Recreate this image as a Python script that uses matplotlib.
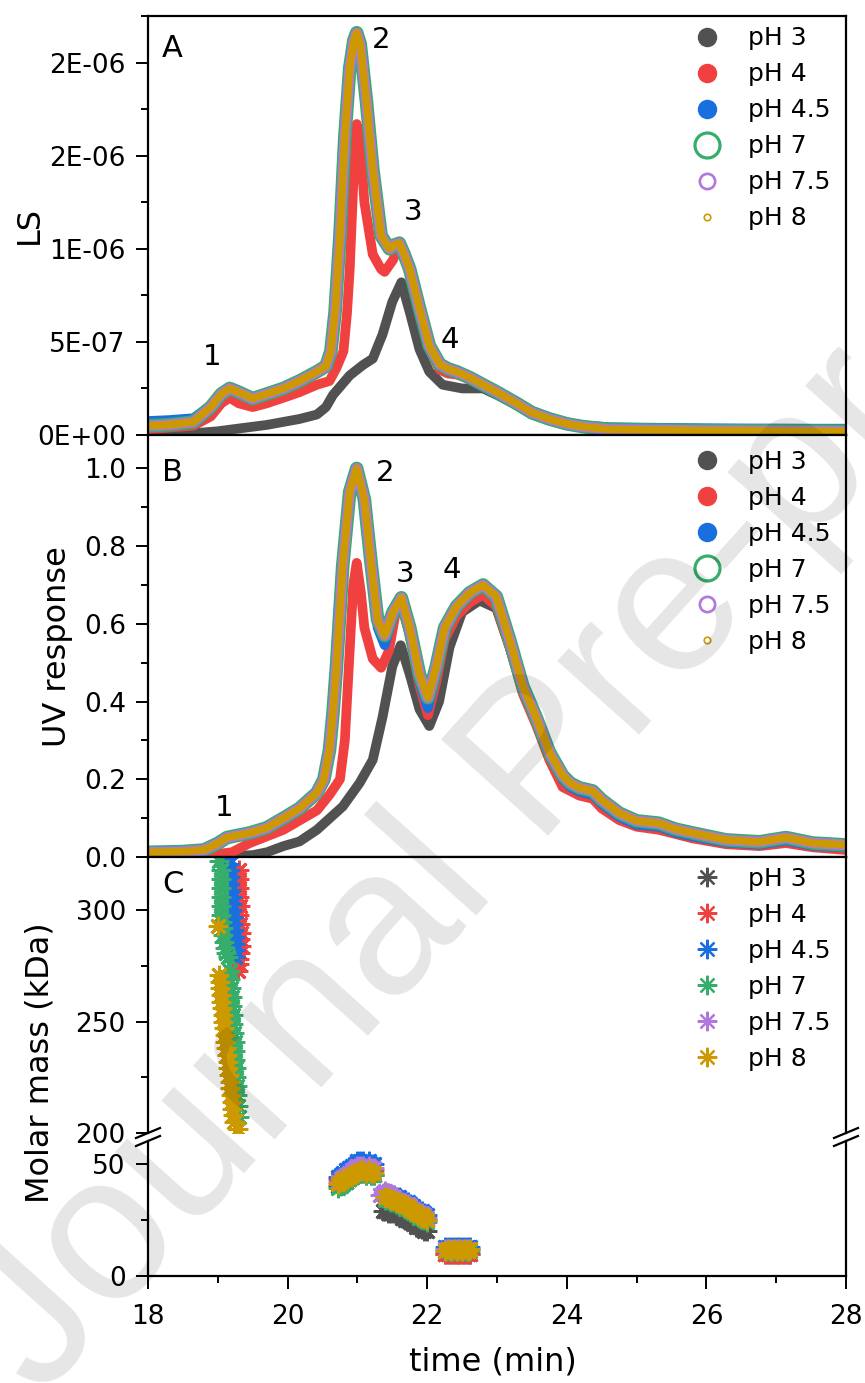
import matplotlib
matplotlib.use("Agg")
import matplotlib.pyplot as plt
from matplotlib.lines import Line2D
from matplotlib.ticker import MultipleLocator

# -------------------------------------------------
# Data
# -------------------------------------------------
LABELS = ["pH 3", "pH 4", "pH 4.5", "pH 7", "pH 7.5", "pH 8"]
COLORS = ["#515151", "#F14040", "#1A6FDF", "#37AD6B", "#B177DE", "#CC9900"]

# Panel A : light scattering (values in 1e-6)
ls_t = [18.0, 18.3, 18.65, 18.9, 19.05, 19.17, 19.3, 19.5, 19.7, 19.94,
        20.17, 20.42, 20.55, 20.62, 20.68, 20.75, 20.82, 20.89, 20.95, 20.99,
        21.04, 21.13, 21.22, 21.34, 21.46, 21.53, 21.6, 21.67, 21.75, 21.89,
        22.03, 22.18, 22.3, 22.42, 22.6, 22.8, 23.0, 23.28, 23.5, 23.75,
        24.0, 24.23, 24.6, 25.0, 25.5, 26.0, 26.5, 27.0, 27.5, 28.0]
ls_ph7 = [0.05, 0.055, 0.07, 0.15, 0.22, 0.25, 0.23, 0.195, 0.22, 0.25,
          0.29, 0.34, 0.37, 0.45, 0.66, 1.07, 1.60, 1.97, 2.12, 2.16,
          2.10, 1.79, 1.43, 1.07, 1.00, 1.02, 1.03, 0.97, 0.89, 0.68,
          0.48, 0.38, 0.355, 0.34, 0.31, 0.27, 0.23, 0.17, 0.12, 0.086,
          0.06, 0.045, 0.03, 0.028, 0.026, 0.024, 0.023, 0.022, 0.021, 0.02]
ls_ph45 = [0.075, 0.08, 0.09, 0.16, 0.225, 0.255, 0.235, 0.2, 0.225, 0.255,
           0.295, 0.345, 0.37, 0.45, 0.66, 1.07, 1.60, 1.97, 2.12, 2.16,
           2.10, 1.79, 1.43, 1.07, 1.00, 1.02, 1.03, 0.97, 0.89, 0.68,
           0.48, 0.38, 0.355, 0.34, 0.31, 0.27, 0.235, 0.18, 0.13, 0.095,
           0.068, 0.052, 0.042, 0.04, 0.038, 0.036, 0.035, 0.035, 0.034, 0.034]
ls_t_ph4 = [18.0, 18.3, 18.65, 18.9, 19.05, 19.17, 19.3, 19.5, 19.7, 19.94,
            20.17, 20.42, 20.6, 20.7, 20.8, 20.85, 20.89, 20.94, 20.99, 21.04,
            21.1, 21.22, 21.34, 21.39, 21.51, 21.58, 21.67, 21.75, 21.89, 22.03,
            22.18, 22.3, 22.42, 22.6, 22.8, 23.0, 23.28, 23.5, 23.75, 24.0,
            24.23, 24.6, 25.0, 25.5, 26.0, 26.5, 27.0, 27.5, 28.0]
ls_ph4 = [0.03, 0.04, 0.05, 0.1, 0.17, 0.2, 0.17, 0.15, 0.17, 0.2,
          0.23, 0.27, 0.29, 0.36, 0.45, 0.65, 0.89, 1.34, 1.67, 1.58,
          1.25, 0.97, 0.89, 0.876, 0.94, 1.0, 0.96, 0.87, 0.66, 0.46,
          0.35, 0.33, 0.325, 0.3, 0.265, 0.225, 0.165, 0.115, 0.082, 0.056,
          0.04, 0.035, 0.032, 0.03, 0.028, 0.026, 0.026, 0.024, 0.023]
ls_t_ph3 = [18.0, 18.5, 19.0, 19.2, 19.7, 20.17, 20.42, 20.55, 20.65, 20.89,
            21.08, 21.22, 21.36, 21.5, 21.63, 21.75, 21.89, 22.03, 22.22, 22.5,
            22.8, 23.0, 23.28, 23.5, 23.75, 24.0, 24.23, 24.6, 25.0, 26.0,
            27.0, 28.0]
ls_ph3 = [0.0, 0.005, 0.02, 0.03, 0.054, 0.086, 0.11, 0.15, 0.215, 0.32,
          0.376, 0.41, 0.54, 0.715, 0.82, 0.66, 0.46, 0.34, 0.27, 0.25,
          0.25, 0.215, 0.16, 0.11, 0.078, 0.054, 0.04, 0.034, 0.031, 0.028,
          0.025, 0.022]
ls_ticks = [0, 5e-7, 1e-6, 1.5e-6, 2e-6]
ls_ticklabels = ["0E+00", "5E-07", "1E-06", "2E-06", "2E-06"]

# Panel B : UV response
uv_t = [18.0, 18.5, 18.8, 19.0, 19.13, 19.46, 19.7, 19.94, 20.17, 20.42,
        20.52, 20.6, 20.65, 20.7, 20.79, 20.89, 20.99, 21.1, 21.2, 21.29,
        21.39, 21.51, 21.63, 21.75, 21.89, 22.01, 22.13, 22.25, 22.42, 22.61,
        22.8, 22.99, 23.18, 23.37, 23.56, 23.75, 23.94, 24.05, 24.18, 24.37,
        24.5, 24.75, 25.0, 25.32, 25.55, 25.8, 26.28, 26.76, 27.14, 27.52, 28.0]
uv_ph7 = [0.012, 0.014, 0.018, 0.035, 0.05, 0.062, 0.075, 0.10, 0.125, 0.165,
          0.20, 0.275, 0.37, 0.49, 0.75, 0.94, 1.0, 0.92, 0.75, 0.61,
          0.57, 0.63, 0.667, 0.59, 0.47, 0.41, 0.49, 0.59, 0.645, 0.68,
          0.70, 0.67, 0.56, 0.44, 0.36, 0.27, 0.21, 0.19, 0.178, 0.17,
          0.147, 0.113, 0.093, 0.087, 0.072, 0.062, 0.044, 0.039, 0.05, 0.036, 0.031]
uv_ph45 = [0.012, 0.014, 0.018, 0.035, 0.05, 0.062, 0.075, 0.10, 0.125, 0.165,
           0.20, 0.275, 0.37, 0.49, 0.75, 0.94, 1.0, 0.92, 0.74, 0.59,
           0.545, 0.62, 0.66, 0.58, 0.45, 0.383, 0.47, 0.58, 0.64, 0.675,
           0.695, 0.665, 0.555, 0.43, 0.35, 0.26, 0.2, 0.18, 0.168, 0.16,
           0.137, 0.103, 0.083, 0.078, 0.063, 0.053, 0.037, 0.032, 0.042, 0.029, 0.025]
uv_t_ph4 = [18.0, 18.5, 19.0, 19.2, 19.46, 19.94, 20.42, 20.6, 20.75, 20.82,
            20.88, 20.94, 20.99, 21.05, 21.1, 21.22, 21.34, 21.45, 21.55, 21.63,
            21.75, 21.89, 22.01, 22.13, 22.25, 22.42, 22.61, 22.8, 22.99, 23.18,
            23.37, 23.56, 23.75, 23.94, 24.18, 24.37, 24.5, 24.75, 25.0, 25.32,
            25.8, 26.28, 26.76, 27.14, 27.52, 28.0]
uv_ph4 = [0.005, 0.005, 0.008, 0.012, 0.036, 0.07, 0.12, 0.16, 0.2, 0.3,
          0.5, 0.7, 0.757, 0.68, 0.59, 0.51, 0.487, 0.53, 0.63, 0.65,
          0.57, 0.44, 0.365, 0.45, 0.56, 0.62, 0.655, 0.675, 0.645, 0.54,
          0.42, 0.34, 0.25, 0.18, 0.158, 0.15, 0.125, 0.095, 0.078, 0.07,
          0.048, 0.033, 0.028, 0.036, 0.025, 0.018]
uv_t_ph3 = [18.0, 19.0, 19.5, 19.7, 19.94, 20.17, 20.42, 20.79, 21.03, 21.22,
            21.36, 21.5, 21.62, 21.75, 21.89, 22.03, 22.17, 22.32, 22.5, 22.75,
            22.99, 23.18, 23.37, 23.56, 23.75, 23.94, 24.18, 24.37, 24.5, 24.75,
            25.0, 25.32, 25.8, 26.28, 26.76, 27.14, 27.52, 28.0]
uv_ph3 = [0.0, 0.0, 0.005, 0.012, 0.028, 0.04, 0.07, 0.13, 0.19, 0.25,
          0.36, 0.49, 0.545, 0.47, 0.38, 0.337, 0.40, 0.54, 0.63, 0.66,
          0.64, 0.54, 0.43, 0.35, 0.26, 0.19, 0.165, 0.155, 0.13, 0.1,
          0.082, 0.075, 0.052, 0.036, 0.031, 0.04, 0.028, 0.022]

# Panel C : molar mass (kDa), upper part of the broken axis
mm_t_up_ph4 = [19.30, 19.31, 19.30, 19.31, 19.32, 19.31, 19.32, 19.33, 19.32,
               19.33, 19.32, 19.31, 19.30, 19.29]
mm_up_ph4 = [318, 314, 310, 306, 302, 298, 294, 290, 287, 284, 281, 278, 276, 273]
mm_t_up_ph45 = [19.14, 19.16, 19.17, 19.18, 19.18, 19.19, 19.20, 19.20,
                19.21, 19.22, 19.22, 19.23, 19.24, 19.24, 19.25, 19.25]
mm_up_ph45 = [324, 321, 318, 315, 312, 309, 306, 303, 300, 297, 294, 291, 288, 285, 282, 279]
mm_t_up_ph7 = [19.02, 19.04, 19.05, 19.04, 19.05, 19.04, 19.05, 19.06, 19.07,
               19.08, 19.09, 19.10, 19.12, 19.14,
               19.17, 19.18, 19.19, 19.20, 19.21, 19.22, 19.22, 19.23, 19.24,
               19.24, 19.25, 19.26, 19.26, 19.27, 19.28, 19.29, 19.30]
mm_up_ph7 = [322, 318, 314, 310, 306, 302, 298, 295, 292, 289, 286, 283, 281, 279,
             273, 269, 265, 261, 257, 253, 249, 245, 241, 237, 233, 229, 225, 221,
             217, 212, 207]
mm_t_up_ph8 = [19.00, 19.02, 19.03, 19.03, 19.04, 19.05, 19.06, 19.07, 19.08,
               19.09, 19.10, 19.11, 19.12, 19.13, 19.14, 19.15, 19.16, 19.17,
               19.18, 19.19, 19.20, 19.21, 19.22, 19.23, 19.29]
mm_up_ph8 = [293, 271, 268, 265, 262, 259, 256, 253, 250, 247, 244, 241, 238,
             235, 232, 229, 226, 223, 220, 217, 214, 211, 208, 205, 202]

# Panel C : lower part (three elution clusters)
mm_t_low1 = [20.72, 20.76, 20.80, 20.84, 20.88, 20.92, 20.96, 21.00, 21.04,
             21.08, 21.12, 21.16, 21.20, 21.24]
mm_t_low2 = [21.40, 21.44, 21.48, 21.52, 21.56, 21.60, 21.64, 21.68, 21.72,
             21.76, 21.80, 21.84, 21.88, 21.92, 21.96, 22.00]
mm_t_low3 = [22.26, 22.30, 22.34, 22.38, 22.42, 22.46, 22.50, 22.54, 22.58, 22.62]
mm_t_low2_ph3 = [21.36] + mm_t_low2
mm_t_low2_ph75 = [21.32, 21.36] + mm_t_low2

mm_low_ph3 = [40, 41, 42, 42, 43, 44, 45, 46, 46, 46, 45, 46, 45, 45,
              29, 29, 28, 28, 28, 27, 27, 26, 25, 25, 24, 23, 22, 22, 21, 20, 20,
              10, 10, 10, 10, 10, 10, 10, 10, 10, 10]
mm_low_ph4 = [43, 43, 44, 44, 45, 46, 47, 48, 48, 48, 47, 48, 47, 47,
              35, 35, 34, 34, 33, 33, 32, 31, 31, 30, 29, 28, 27, 27, 26, 25,
              10, 10, 10, 10, 10, 10, 10, 10, 10, 10]
mm_low_ph45 = [44, 45, 46, 47, 48, 49, 50, 51, 51, 51, 50, 51, 50, 50,
               37, 37, 36, 36, 35, 35, 34, 33, 33, 32, 31, 30, 29, 29, 28, 27,
               13, 13, 13, 13, 13, 13, 13, 13, 13, 13]
mm_low_ph7 = [39, 40, 41, 42, 43, 44, 45, 46, 46, 46, 45, 46, 45, 45,
              34, 34, 33, 33, 32, 32, 31, 30, 30, 29, 28, 27, 26, 26, 25, 24,
              11, 11, 11, 11, 11, 11, 11, 11, 11, 11]
mm_low_ph75 = [42, 43, 44, 45, 46, 47, 48, 49, 49, 49, 48, 49, 48, 48,
               36, 37, 38, 37, 36, 35, 34, 34, 33, 32, 32, 31, 30, 29, 28, 28, 27, 26,
               12, 12, 12, 12, 12, 12, 12, 12, 12, 12]
mm_low_ph8 = [41, 42, 43, 43, 44, 45, 46, 46, 47, 47, 46, 47, 46, 46,
              35, 35, 34, 34, 33, 33, 32, 31, 31, 30, 29, 28, 27, 27, 26, 25,
              11, 12, 11, 12, 11, 12, 11, 12, 11, 12]


# -------------------------------------------------
# Figure layout (pixel boxes of the original)
# -------------------------------------------------
plt.rcParams["font.family"] = ["DejaVu Sans"]

W, H = 865, 1383
fig = plt.figure(figsize=(W / 100, H / 100), dpi=100)


def box(left, top, right, bottom):
    return fig.add_axes([left / W, 1 - bottom / H, (right - left) / W, (bottom - top) / H])


ax_a = box(148, 16, 846, 435)
ax_b = box(148, 435, 846, 857)
ax_cu = box(148, 857, 846, 1133)
ax_cl = box(148, 1141, 846, 1276)

line_kw = dict(solid_capstyle="round", solid_joinstyle="round")


def draw_curves(ax, t_ph3, ph3, t_ph4, ph4, t_band, ph45, ph7, scale):
    ax.plot(t_ph3, [v * scale for v in ph3], color=COLORS[0], lw=7, **line_kw)
    ax.plot(t_ph4, [v * scale for v in ph4], color=COLORS[1], lw=7, **line_kw)
    ax.plot(t_band, [v * scale for v in ph45], color=COLORS[2], lw=7, **line_kw)
    band = [v * scale for v in ph7]
    ax.plot(t_band, band, color=COLORS[3], lw=9.8, **line_kw)
    ax.plot(t_band, band, color=COLORS[4], lw=7.6, **line_kw)
    ax.plot(t_band, band, color=COLORS[5], lw=5.4, **line_kw)


draw_curves(ax_a, ls_t_ph3, ls_ph3, ls_t_ph4, ls_ph4, ls_t, ls_ph45, ls_ph7, 1e-6)
draw_curves(ax_b, uv_t_ph3, uv_ph3, uv_t_ph4, uv_ph4, uv_t, uv_ph45, uv_ph7, 1.0)

# molar mass asterisks
star = (8, 2, 0)
star_kw = dict(ls="none", marker=star, ms=14, mew=2.0)
ax_cu.plot(mm_t_up_ph4, mm_up_ph4, color=COLORS[1], **star_kw)
ax_cu.plot(mm_t_up_ph45, mm_up_ph45, color=COLORS[2], **star_kw)
ax_cu.plot(mm_t_up_ph7, mm_up_ph7, color=COLORS[3], **star_kw)
ax_cu.plot(mm_t_up_ph8, mm_up_ph8, color=COLORS[5], **star_kw)

t_low = mm_t_low1 + mm_t_low2 + mm_t_low3
ax_cl.plot(mm_t_low1 + mm_t_low2_ph3 + mm_t_low3, mm_low_ph3, color=COLORS[0], **star_kw)
ax_cl.plot(t_low, mm_low_ph4, color=COLORS[1], **star_kw)
ax_cl.plot(t_low, mm_low_ph45, color=COLORS[2], **star_kw)
ax_cl.plot(t_low, mm_low_ph7, color=COLORS[3], **star_kw)
ax_cl.plot(mm_t_low1 + mm_t_low2_ph75 + mm_t_low3, mm_low_ph75, color=COLORS[4], **star_kw)
ax_cl.plot(t_low, mm_low_ph8, color=COLORS[5], **star_kw)


# -------------------------------------------------
# Axes styling
# -------------------------------------------------
for ax in (ax_a, ax_b, ax_cu, ax_cl):
    ax.set_xlim(18, 28)
    ax.tick_params(which="both", direction="out", width=1.4, labelsize=19, pad=7,
                   top=False, right=False)
    ax.tick_params(which="major", length=9)
    ax.tick_params(which="minor", length=5)
    for s in ax.spines.values():
        s.set_linewidth(1.6)

for ax in (ax_a, ax_b, ax_cu):
    ax.tick_params(axis="x", which="both", bottom=False, labelbottom=False)

ax_a.set_ylim(0, 2.25e-6)
ax_a.set_yticks(ls_ticks, ls_ticklabels)
ax_a.yaxis.set_minor_locator(MultipleLocator(2.5e-7))

ax_b.set_ylim(0, 1.086)
ax_b.yaxis.set_major_locator(MultipleLocator(0.2))
ax_b.yaxis.set_minor_locator(MultipleLocator(0.1))
ax_b.yaxis.set_major_formatter(lambda v, p: f"{v:.1f}")

ax_cu.set_ylim(200, 324)
ax_cu.yaxis.set_major_locator(MultipleLocator(50))
ax_cu.yaxis.set_minor_locator(MultipleLocator(25))
ax_cu.spines["bottom"].set_visible(False)

ax_cl.set_ylim(0, 60)
ax_cl.set_yticks([0, 50])
ax_cl.yaxis.set_minor_locator(MultipleLocator(25))
ax_cl.spines["top"].set_visible(False)
ax_cl.xaxis.set_major_locator(MultipleLocator(2))
ax_cl.xaxis.set_minor_locator(MultipleLocator(1))
ax_cl.tick_params(axis="x", pad=11)

# axis break marks
dx = 12 / 698
for ax, y0, hpx in ((ax_cu, 0, 276), (ax_cl, 1, 135)):
    dy = 5 / hpx
    for x0 in (0, 1):
        ax.plot([x0 - dx, x0 + dx], [y0 - dy, y0 + dy], color="k", lw=1.6,
                transform=ax.transAxes, clip_on=False)


# -------------------------------------------------
# Legends, labels, annotations
# -------------------------------------------------
circle_handles = [
    Line2D([], [], ls="none", marker="o", ms=13, mfc=COLORS[0], mec=COLORS[0]),
    Line2D([], [], ls="none", marker="o", ms=13, mfc=COLORS[1], mec=COLORS[1]),
    Line2D([], [], ls="none", marker="o", ms=13, mfc=COLORS[2], mec=COLORS[2]),
    Line2D([], [], ls="none", marker="o", ms=18, mfc="none", mec=COLORS[3], mew=2.3),
    Line2D([], [], ls="none", marker="o", ms=11, mfc="none", mec=COLORS[4], mew=1.9),
    Line2D([], [], ls="none", marker="o", ms=4.7, mfc="none", mec=COLORS[5], mew=1.2),
]
star_handles = [Line2D([], [], ls="none", marker=star, ms=14, mew=1.6, color=c)
                for c in COLORS]

leg_kw = dict(loc="upper left", frameon=False, fontsize=18, handlelength=1.0,
              handletextpad=1.14, labelspacing=0.48, borderpad=0, borderaxespad=0)
ax_a.legend(circle_handles, LABELS, bbox_to_anchor=(0.783, 0.975), **leg_kw)
ax_b.legend(circle_handles, LABELS, bbox_to_anchor=(0.783, 0.964), **leg_kw)
ax_cu.legend(star_handles, LABELS, bbox_to_anchor=(0.783, 0.965), **leg_kw)

for ax, letter, y in ((ax_a, "A", 0.923), (ax_b, "B", 0.91), (ax_cu, "C", 0.902)):
    ax.text(0.02, y, letter, transform=ax.transAxes, fontsize=22, ha="left", va="center")

peak_kw = dict(fontsize=21, ha="center", va="center")
ax_a.text(18.92, 0.42e-6, "1", **peak_kw)
ax_a.text(21.34, 2.12e-6, "2", **peak_kw)
ax_a.text(21.80, 1.20e-6, "3", **peak_kw)
ax_a.text(22.33, 0.51e-6, "4", **peak_kw)
ax_b.text(19.09, 0.126, "1", **peak_kw)
ax_b.text(21.40, 0.988, "2", **peak_kw)
ax_b.text(21.69, 0.728, "3", **peak_kw)
ax_b.text(22.35, 0.738, "4", **peak_kw)

fig.text(29 / W, 1 - 225 / H, "LS", rotation=90, fontsize=23, ha="center", va="center")
fig.text(58 / W, 1 - 647 / H, "UV response", rotation=90, fontsize=23, ha="center", va="center")
fig.text(40 / W, 1 - 1063 / H, "Molar mass (kDa)", rotation=90, fontsize=23, ha="center", va="center")
fig.text(493 / W, 1 - 1362 / H, "time (min)", fontsize=23, ha="center", va="center")

# watermark (runs off the page edges as in the original)
fig.text(540 / W, 1 - 765 / H, "Journal Pre-proof", fontsize=150, family="Liberation Sans",
         color="k", alpha=0.1, rotation=48, rotation_mode="anchor",
         ha="center", va="center", zorder=10)

fig.savefig("out.png", dpi=100)
